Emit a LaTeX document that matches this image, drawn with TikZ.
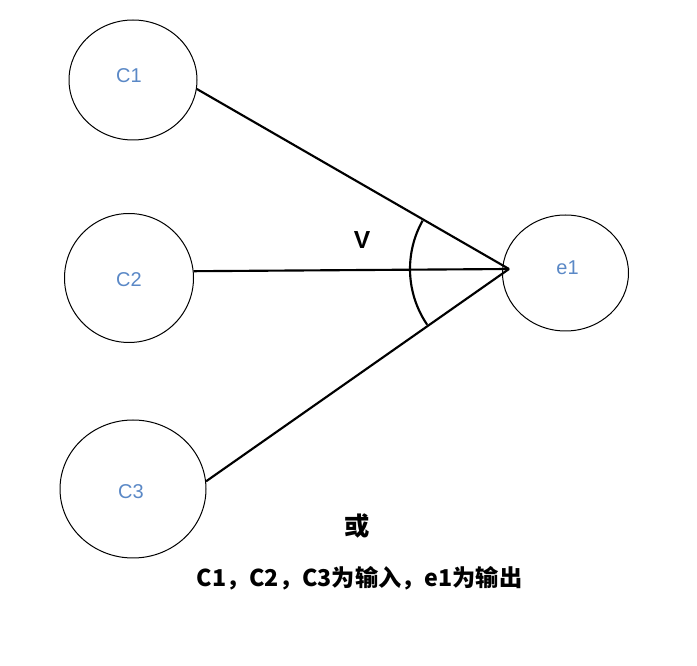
\documentclass[tikz,border=0pt]{standalone}
\usepackage{fontspec}
\setmainfont{Liberation Sans}
\newfontfamily\cjk{Noto Sans CJK SC}
\usetikzlibrary{shapes.geometric}
\definecolor{lbl}{RGB}{90,136,198}
\tikzset{
  circ/.style={draw=black, line width=0.75pt, ellipse, inner sep=0pt},
  lab/.style={text=lbl, font=\fontsize{15}{17}\selectfont},
  wire/.style={draw=black, line width=1.6pt},
}
\begin{document}
\begin{tikzpicture}[x=0.75pt,y=-0.75pt]
\useasboundingbox (0,0) rectangle (697,666);
\node[circ, minimum width=128*0.75pt, minimum height=120*0.75pt] (C1) at (133,80) {};
\node[circ, minimum width=129*0.75pt, minimum height=129*0.75pt] (C2) at (129,278) {};
\node[circ, minimum width=146*0.75pt, minimum height=138*0.75pt] (C3) at (133,489) {};
\node[circ, minimum width=126*0.75pt, minimum height=116*0.75pt] (e1) at (565.5,273) {};
\node[lab] (l1) at (129,76) {C1};
\node[lab] (l2) at (129,280) {C2};
\node[lab] (l3) at (131,492) {C3};
\node[lab] (l4) at (567.5,268) {e1};
\coordinate (tip) at (509,269);
\draw[wire] (C1.-8) -- (tip);
\draw[wire] (C2.6) -- (tip);
\draw[wire] (C3.6) -- (tip);
\draw[wire] (tip) ++(150.8:74.25pt) arc[start angle=150.8, end angle=214.3, radius=74.25pt];
\node[font=\bfseries\fontsize{18.5}{20}\selectfont] (V) at (362,240) {V};
\node[font=\cjk\bfseries\fontsize{19}{22}\selectfont] (or) at (357,526) {或};
\node[font=\cjk\bfseries\fontsize{17.4}{20}\selectfont] (cap) at (359.5,578) {C1，C2，C3为输入，e1为输出};
\end{tikzpicture}
\end{document}
